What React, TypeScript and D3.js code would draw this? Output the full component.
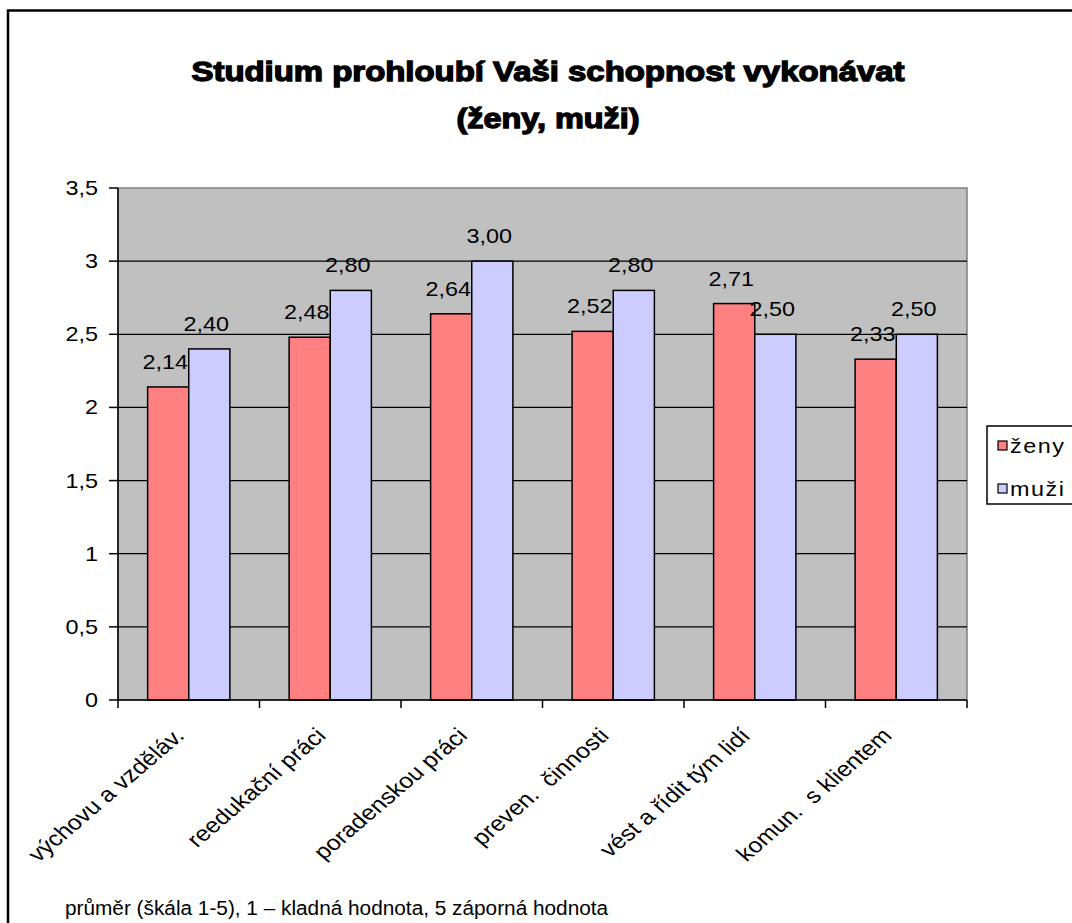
import React from "react";
import * as d3 from "d3";

const categories = [
  "výchovu a vzděláv.",
  "reedukační práci",
  "poradenskou práci",
  "preven.  činnosti",
  "vést a řídit tým lidí",
  "komun.  s klientem",
];
const seriesNames = ["ženy", "muži"];
const zenyValues = [2.14, 2.48, 2.64, 2.52, 2.71, 2.33];
const muziValues = [2.4, 2.8, 3.0, 2.8, 2.5, 2.5];
const yTicks = [0, 0.5, 1, 1.5, 2, 2.5, 3, 3.5];
const colors = ["#FF8080", "#CCCCFF"];
const titleLines = ["Studium prohloubí Vaši schopnost vykonávat", "(ženy, muži)"];
const note = "průměr (škála 1-5), 1 – kladná hodnota, 5 záporná hodnota";

const W = 1072;
const H = 923;
const plot = { left: 118, right: 967, top: 188, bottom: 700 };
const FONT = "'Liberation Sans', Arial, sans-serif";
const SX = 1.17;

const fmt = (v: number) => v.toFixed(2).replace(".", ",");
const fmtTick = (v: number) => String(v).replace(".", ",");

export default function App() {
  const x0 = d3.scaleBand<string>().domain(categories).range([plot.left, plot.right]).padding(0);
  const x1 = d3
    .scaleBand<string>()
    .domain(seriesNames)
    .range([0, x0.bandwidth()])
    .paddingInner(0)
    .paddingOuter(0.72);
  const y = d3.scaleLinear().domain([0, 3.5]).range([plot.bottom, plot.top]);
  const data = [zenyValues, muziValues];

  return (
    <svg
      width={W}
      height={H}
      style={{ position: "absolute", left: 0, top: 0, background: "#fff" }}
      fontFamily={FONT}
    >
      <rect x={0} y={0} width={W} height={H} fill="#fff" />
      {/* outer frame */}
      <rect x={8} y={10.5} width={W + 50} height={H + 50} fill="none" stroke="#000" strokeWidth={2.5} />

      {/* title */}
      <text
        x={548}
        y={81}
        textAnchor="middle"
        fontSize={27}
        fontWeight="bold"
        stroke="#000"
        strokeWidth={1.3}
        textLength={713}
        lengthAdjust="spacingAndGlyphs"
      >
        {titleLines[0]}
      </text>
      <text
        x={548}
        y={128}
        textAnchor="middle"
        fontSize={27}
        fontWeight="bold"
        stroke="#000"
        strokeWidth={1.3}
        textLength={183}
        lengthAdjust="spacingAndGlyphs"
      >
        {titleLines[1]}
      </text>

      {/* plot area */}
      <rect
        x={plot.left}
        y={plot.top}
        width={plot.right - plot.left}
        height={plot.bottom - plot.top}
        fill="#C0C0C0"
        stroke="#808080"
        strokeWidth={1.5}
      />
      {yTicks.slice(1, -1).map((t) => (
        <line key={t} x1={plot.left} x2={plot.right} y1={y(t)} y2={y(t)} stroke="#000" strokeWidth={1.3} />
      ))}

      {/* bars */}
      {categories.map((c, i) =>
        seriesNames.map((s, j) => {
          const v = data[j][i];
          const bx = (x0(c) as number) + (x1(s) as number);
          return (
            <rect
              key={c + s}
              x={bx}
              y={y(v)}
              width={x1.bandwidth()}
              height={y(0) - y(v)}
              fill={colors[j]}
              stroke="#000"
              strokeWidth={1.5}
            />
          );
        })
      )}

      {/* data labels */}
      {categories.map((c, i) =>
        seriesNames.map((s, j) => {
          const v = data[j][i];
          const cx = (x0(c) as number) + (x1(s) as number) + x1.bandwidth() / 2 - 3;
          return (
            <text
              key={"l" + c + s}
              transform={`translate(${cx},${y(v) - 18}) scale(${SX},1)`}
              textAnchor="middle"
              fontSize={20}
              fill="#000"
            >
              {fmt(v)}
            </text>
          );
        })
      )}

      {/* y axis */}
      <line x1={plot.left} x2={plot.left} y1={plot.top} y2={plot.bottom} stroke="#000" strokeWidth={1.5} />
      {yTicks.map((t) => (
        <g key={"yt" + t}>
          <line x1={plot.left - 9} x2={plot.left} y1={y(t)} y2={y(t)} stroke="#000" strokeWidth={1.5} />
          <text
            transform={`translate(${98},${y(t) + 7}) scale(${SX},1)`}
            textAnchor="end"
            fontSize={20}
          >
            {fmtTick(t)}
          </text>
        </g>
      ))}

      {/* x axis */}
      <line x1={plot.left} x2={plot.right} y1={plot.bottom} y2={plot.bottom} stroke="#000" strokeWidth={1.5} />
      {[...categories.map((c) => x0(c) as number), plot.right].map((bx, i) => (
        <line key={"xt" + i} x1={bx} x2={bx} y1={plot.bottom} y2={plot.bottom + 8} stroke="#000" strokeWidth={1.5} />
      ))}
      {categories.map((c) => {
        const cx = (x0(c) as number) + x0.bandwidth() / 2;
        return (
          <text
            key={"xl" + c}
            transform={`translate(${cx - 3},${plot.bottom + 37}) scale(${SX},1) rotate(-45)`}
            textAnchor="end"
            fontSize={21.3}
            style={{ whiteSpace: "pre" }}
          >
            {c}
          </text>
        );
      })}

      {/* legend */}
      <rect x={987} y={426} width={120} height={78} fill="#fff" stroke="#000" strokeWidth={1.5} />
      {seriesNames.map((s, j) => (
        <g key={"lg" + s}>
          <rect x={998} y={441 + j * 43} width={9} height={9} fill={colors[j]} stroke="#000" strokeWidth={1.2} />
          <text
            transform={`translate(${1010},${453 + j * 43}) scale(${SX},1)`}
            fontSize={20}
            letterSpacing={1.3}
          >
            {s}
          </text>
        </g>
      ))}

      {/* note */}
      <text transform={`translate(${65},${915}) scale(1.04,1)`} fontSize={20}>
        {note}
      </text>
    </svg>
  );
}
